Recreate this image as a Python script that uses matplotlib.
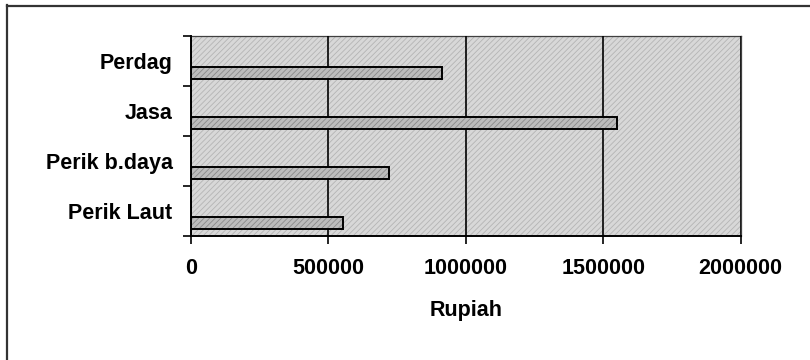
import matplotlib.pyplot as plt
import matplotlib.patches as mpatches
from matplotlib.lines import Line2D
import numpy as np

plt.rcParams['font.family'] = ['Liberation Sans', 'DejaVu Sans']
plt.rcParams['hatch.linewidth'] = 0.6

# Data (Rupiah per sector)
sectors = ['Perik Laut', 'Perik b.daya', 'Jasa', 'Perdag']
rupiah = [555000, 720000, 1550000, 915000]
x_ticks = [0, 500000, 1000000, 1500000, 2000000]

fig = plt.figure(figsize=(8.1, 3.6), dpi=100)
ax = fig.add_axes([0.2354, 0.3444, 0.679, 0.5556])

# textured grey plot area
ax.set_facecolor('none')
bg = mpatches.Rectangle((0, 0), 1, 1, transform=ax.transAxes,
                        facecolor='#d8d8d8', edgecolor='#b4b4b4',
                        hatch='//////', lw=0, zorder=0)
ax.add_patch(bg)

pos = np.arange(len(sectors))
offset = -0.23
height = 0.24
# fill with hatch first, then black outline on top
ax.barh(pos + offset, rupiah, height=height, color='#bcbcbc',
        edgecolor='#8a8a8a', hatch='//////', lw=0, zorder=3)
ax.barh(pos + offset, rupiah, height=height, facecolor='none',
        edgecolor='black', lw=1.4, zorder=4)

ax.set_xlim(0, 2000000)
ax.set_ylim(-0.5, len(sectors) - 0.5)

fs = 15.5

# x axis
ax.set_xticks(x_ticks)
ax.set_xticklabels([str(v) for v in x_ticks], fontsize=fs, fontweight='bold')
ax.tick_params(axis='x', length=6, width=1.2, pad=10, direction='out')
ax.grid(axis='x', color='black', lw=1.2, zorder=2)
ax.set_axisbelow(False)
ax.set_xlabel('Rupiah', fontsize=fs, fontweight='bold', labelpad=15)

# y axis: ticks between categories, labels at centres
ax.set_yticks(np.arange(-0.5, len(sectors), 1.0))
ax.set_yticklabels([])
ax.set_yticks(pos, minor=True)
ax.set_yticklabels(sectors, minor=True, fontsize=fs, fontweight='bold')
ax.tick_params(axis='y', which='major', length=6, width=1.2, direction='out')
ax.tick_params(axis='y', which='minor', length=0, pad=13)

for side in ['left', 'bottom']:
    ax.spines[side].set_linewidth(1.4)
    ax.spines[side].set_zorder(5)
for side in ['top', 'right']:
    ax.spines[side].set_color('#404040')
    ax.spines[side].set_linewidth(0.9)
    ax.spines[side].set_linestyle((0, (2, 1)))

# outer chart frame (left and top edges)
W, H = 810, 360
fig.add_artist(Line2D([6.5 / W, 6.5 / W], [0, 1 - 5 / H], color='#333333',
                      lw=1.6, transform=fig.transFigure))
fig.add_artist(Line2D([6.5 / W, 1], [1 - 5.5 / H, 1 - 5.5 / H], color='#333333',
                      lw=1.6, transform=fig.transFigure))

fig.savefig('out.png', dpi=100)
